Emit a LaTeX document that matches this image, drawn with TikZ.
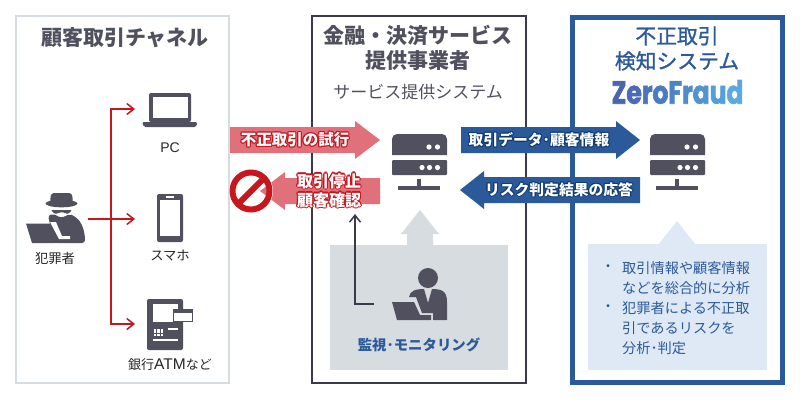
\documentclass[tikz,border=0pt]{standalone}
\usepackage{fontspec}
\usepackage[copies]{contour}
\usepackage{tikz}
\usetikzlibrary{arrows.meta}
\setmainfont{Noto Sans CJK JP}
\newfontfamily\logofont{Poppins}[BoldFont={* Bold},FakeStretch=0.78]
\newfontfamily\latinfont{Liberation Sans}
\definecolor{ink}{HTML}{50505E}
\definecolor{frame_gray}{HTML}{D7DCE0}
\definecolor{frame_dark}{HTML}{3A3A4A}
\definecolor{blue_main}{HTML}{2B5A9B}
\definecolor{blue_dark}{HTML}{0F3B70}
\definecolor{blue_pale}{HTML}{DEE9F5}
\definecolor{red_main}{HTML}{C8161E}
\definecolor{red_pale}{HTML}{E0707A}
\contourlength{1.1pt}
\contournumber{8}
\tikzset{
	server/.pic={
		\fill[ink] (0,21) [rounded corners=5] -- (0,0) -- (55,0) [sharp corners] -- (55,21) -- cycle;
		\fill[white] (37,13) circle (2.6) (45.5,13) circle (2.6);
		\fill[ink, rounded corners=1] (0,26) rectangle (55,41);
		\fill[white] (30,33.5) circle (2.6) (37.5,33.5) circle (2.6) (45.5,33.5) circle (2.6);
		\fill[ink] (25,45) rectangle (29,56);
		\fill[ink] (6,52) rectangle (48,56);
	}
}

\begin{document}
\begin{tikzpicture}[x=1pt,y=-1pt]
	\tikzstyle{frame_left} = [draw=frame_gray, line width=2pt]
	\tikzstyle{frame_center} = [draw=frame_dark, line width=2pt]
	\tikzstyle{frame_right} = [draw=blue_main, line width=5pt]
	\tikzstyle{title} = [inner sep=0, align=center, text=ink, font=\fontsize{21}{24.5}\selectfont\bfseries]
	\tikzstyle{caption} = [inner sep=0, text=black!85, font=\fontsize{13.3}{16}\selectfont]
	\tikzstyle{label_red} = [inner sep=0, align=center, text=white, font=\fontsize{15.5}{20}\selectfont\bfseries]
	\tikzstyle{label_blue} = [inner sep=0, text=white, font=\fontsize{14.8}{18}\selectfont\bfseries]
	\tikzstyle{line_red} = [draw=red_main, line width=1.5pt, -{Straight Barb[length=7pt,width=11pt]}]
	\tikzstyle{line_dark} = [draw=frame_dark, line width=1.5pt, -{Straight Barb[length=7pt,width=11pt]}]

	\useasboundingbox (0,0) rectangle (800,400);

%------------------------------------------------------------
	\node[frame_left, minimum width=213pt, minimum height=367pt, inner sep=0] (channel) at (122.5,199.5) {};
	\node[frame_center, minimum width=214pt, minimum height=367pt, inner sep=0] (provider) at (419,199.5) {};
	\node[frame_right, minimum width=210pt, minimum height=365pt, inner sep=0] (detector) at (677.5,200) {};

	\node[title] (channel_title) at (125,37.5) {顧客取引チャネル};
	\node[title] (provider_title) at (418,48) {金融・決済サービス\\提供事業者};
	\node[inner sep=0, text=ink, font=\fontsize{17}{20}\selectfont] (provider_sub) at (418,92) {サービス提供システム};
	\node[title, text=blue_main, font=\fontsize{20.8}{25}\selectfont] (detector_title) at (677,48.5) {\special{pdf:code 2 Tr 0.25 w 0.17 0.35 0.61 RG}不正取引\\\special{pdf:code 2 Tr 0.25 w 0.17 0.35 0.61 RG}検知システム\special{pdf:code 0 Tr}};
	\node[inner sep=0, font=\logofont\bfseries\fontsize{32}{34}\selectfont] (logo) at (677.5,92) {\special{pdf:code 2 Tr 0.6 w 0.3 0.5 0.76 RG}\textcolor[HTML]{4A64AE}{Z}\textcolor[HTML]{4A6CB4}{e}\textcolor[HTML]{4B74BA}{r}\textcolor[HTML]{4C7CC0}{o}\textcolor[HTML]{4E84C6}{F}\textcolor[HTML]{508CCC}{r}\textcolor[HTML]{5294D2}{a}\textcolor[HTML]{569EDA}{u}\textcolor[HTML]{5CA8E0}{d}\special{pdf:code 0 Tr}};

%------------------------------------------------------------
	% laptop
	\fill[ink, rounded corners=2] (149,93) rectangle (191,122);
	\fill[white] (152.5,97) rectangle (187.5,118);
	\fill[ink, rounded corners=1.5] (142,122) -- (197.5,122) -- (196,127) -- (144,127) -- cycle;
	\node[caption, font=\latinfont\fontsize{14}{16}\selectfont] (pc) at (170,148) {PC};

	% phone
	\fill[ink, rounded corners=2] (157,194) rectangle (183,242);
	\fill[white] (160,200) rectangle (180,236);
	\fill[white] (166,196) rectangle (174,198);
	\node[caption] (phone) at (170,256) {スマホ};

	% atm
	\fill[ink, rounded corners=2] (147,299) rectangle (183,350);
	\fill[white] (152.5,303.5) rectangle (178,322);
	\draw[ink, fill=white, line width=1pt] (173.5,309.5) rectangle (192,321.5);
	\fill[ink] (173.5,309.5) rectangle (192,313);
	\foreach \i in {0,1,2}
		\foreach \j in {0,1,2}
			\fill[white] (153.5+\i*3.6,328.5+\j*2.8) rectangle (156+\i*3.6,330.5+\j*2.8);
	\fill[white] (168,328) rectangle (178,329.5);
	\fill[white] (153,339) rectangle (178,340.5);
	\node[caption, font=\fontsize{13}{16}\selectfont] (atm) at (170,365) {銀行{\latinfont\fontsize{15.5}{16}\selectfont ATM}など};

	% hacker
	\fill[ink, rounded corners=3] (50,203) -- (51,193) -- (72,193) -- (73,203) -- cycle;
	\fill[ink] (61.5,203.5) ellipse (16 and 3.8);
	\fill[ink, rounded corners=1] (51,210) -- (72,210) -- (68,214) -- (62,212) -- (55,214) -- cycle;
	\fill[ink, rounded corners=3] (48,215) -- (54,214) -- (61,218) -- (70,214) -- (74,216) .. controls (82,222) and (85,232) .. (85,243) -- (54,243) -- cycle;
	\fill[white] (50,222) -- (56,222) -- (62,236) -- (70,236) -- (70,239) -- (59,239) -- cycle;
	\fill[ink] (26,223.5) -- (50,223.5) -- (55,243) -- (32,243) -- cycle;
	\fill[ink] (32,241) -- (68,241) -- (68,243) -- (32,243) -- cycle;
	\node[caption] (hacker) at (55,258) {犯罪者};

	\coordinate (hacker_out) at (88,219);
	\coordinate (branch) at (111,219);
	\coordinate (pc_in) at (135,109);
	\coordinate (phone_in) at (135,219);
	\coordinate (atm_in) at (135,324);
	\draw[line_red] (hacker_out) -- (phone_in);
	\draw[line_red] (branch) |- (pc_in);
	\draw[line_red] (branch) |- (atm_in);

%------------------------------------------------------------
	\fill[frame_gray] (407,246) -- (407,234) -- (401,234) -- (420,210) -- (439,234) -- (433,234) -- (433,246) -- cycle;
	\node[fill=frame_gray, minimum width=178pt, minimum height=125pt, inner sep=0] (monitor) at (419,307.5) {};
	\node[inner sep=0, text=blue_main, font=\fontsize{14.4}{17}\selectfont\bfseries] (monitor_text) at (419,345) {監視･モニタリング};

	% operator
	\fill[ink] (428,278) circle (10);
	\fill[ink] (409,297) .. controls (410,291) and (415,289) .. (424,289) -- (428,303) -- (432,289) .. controls (443,289) and (447,292) .. (447,302) -- (447,320) -- (433,320) -- (433,313) -- (422,313) -- (416,297) -- cycle;
	\fill[ink] (392,302) -- (414,302) -- (420,315) -- (431,315) -- (431,320) -- (397,320) -- cycle;

	\coordinate (monitor_out) at (374,304);
	\coordinate (monitor_in) at (355,214);
	\draw[line_dark] (monitor_out) -| (monitor_in);

	\pic (server_a) at (392,134) {server};
	\pic (server_b) at (650,134) {server};

%------------------------------------------------------------
	\fill[red_pale] (230,127) -- (355,127) -- (355,121) -- (380,140) -- (355,159) -- (355,153) -- (230,153) -- cycle;
	\node[label_red] (attempt) at (295,140) {\contour{red_main}{不正取引の試行}};

	\fill[red_pale] (380,178) -- (285,178) -- (285,172) -- (260,191) -- (285,210) -- (285,204) -- (380,204) -- cycle;
	\node[label_red, font=\fontsize{16}{19}\selectfont\bfseries] (stop) at (329,191) {\contour{red_main}{取引停止}\\\contour{red_main}{顧客確認}};

	\draw[white, line width=1pt] (251,191) circle (21.5);
	\draw[red_main, line width=6pt] (251,191) circle (18.5);
	\coordinate (bar_a) at (264,178);
	\coordinate (bar_b) at (238,204);
	\draw[red_main, line width=6pt] (bar_a) -- (bar_b);

%------------------------------------------------------------
	\fill[blue_main] (461,127) -- (616,127) -- (616,121) -- (640,140) -- (616,159) -- (616,153) -- (461,153) -- cycle;
	\node[label_blue] (request) at (539,140) {\contour{blue_dark}{取引データ･顧客情報}};

	\fill[blue_main] (640,177) -- (484,177) -- (484,171) -- (460,190) -- (484,209) -- (484,203) -- (640,203) -- cycle;
	\node[label_blue] (response) at (559,190) {\contour{blue_dark}{リスク判定結果の応答}};

%------------------------------------------------------------
	\fill[blue_pale] (658,245) -- (677,221) -- (696,245) -- cycle;
	\node[fill=blue_pale, minimum width=179pt, minimum height=126pt, inner sep=0] (analysis) at (677.5,307) {};
	\node[anchor=west, inner sep=0, text=blue_main, font=\fontsize{14.2}{20}\selectfont, align=left] (analysis_text) at (622,308) {取引情報や顧客情報\\などを総合的に分析\\犯罪者による不正取\\引であるリスクを\\分析･判定};
	\node[inner sep=0, text=blue_main, font=\fontsize{14}{16}\selectfont] (dot_a) at (608,268) {・};
	\node[inner sep=0, text=blue_main, font=\fontsize{14}{16}\selectfont] (dot_b) at (608,308) {・};

\end{tikzpicture}
\end{document}
